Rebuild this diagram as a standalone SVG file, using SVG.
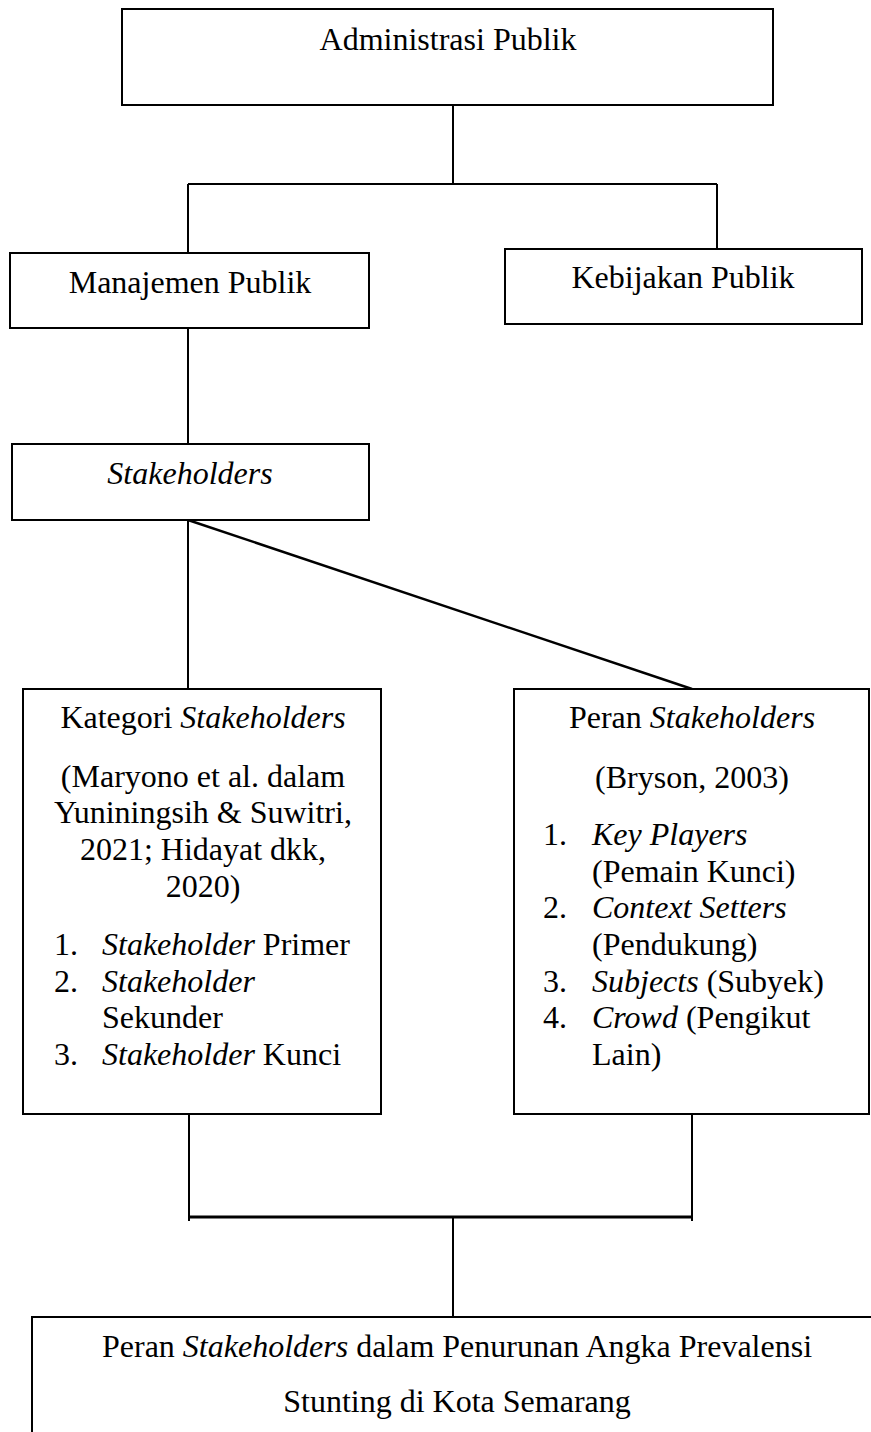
<svg xmlns="http://www.w3.org/2000/svg" width="871" height="1432" viewBox="0 0 871 1432">
<style>
.box{fill:#fff;stroke:#000;stroke-width:2}
.ln{fill:none;stroke:#000;stroke-width:2}
text{font-family:"Liberation Serif","Times New Roman",serif;font-size:32px;fill:#000}
.c{text-anchor:middle}
.i{font-style:italic}
</style>
<rect width="871" height="1432" fill="#fff"/>
<g id="connectors">
<path class="ln" d="M453 105 V184 M188 184 H717 M188 184 V253 M717 184 V249"/>
<path class="ln" d="M188 328 V444"/>
<path class="ln" d="M188 520 V689"/>
<path class="ln" d="M188 520 L692 689" style="stroke-width:2.5"/>
<path class="ln" d="M189 1114 V1221 M692 1114 V1221"/>
<path class="ln" d="M189 1217 H692" style="stroke-width:3"/>
<path class="ln" d="M453 1217 V1317"/>
</g>
<g id="administrasi-publik">
<rect class="box" x="122" y="9" width="651" height="96"/>
<text class="c" x="448" y="50">Administrasi Publik</text>
</g>
<g id="manajemen-publik">
<rect class="box" x="10" y="253" width="359" height="75"/>
<text class="c" x="190" y="293">Manajemen Publik</text>
</g>
<g id="kebijakan-publik">
<rect class="box" x="505" y="249" width="357" height="75"/>
<text class="c" x="683" y="288">Kebijakan Publik</text>
</g>
<g id="stakeholders">
<rect class="box" x="12" y="444" width="357" height="76"/>
<text class="c i" x="190" y="484">Stakeholders</text>
</g>
<g id="kategori-stakeholders">
<rect class="box" x="23" y="689" width="358" height="425"/>
<text class="c" x="203" y="728">Kategori <tspan class="i">Stakeholders</tspan></text>
<text class="c" x="203" y="787">(Maryono et al. dalam</text>
<text class="c" x="203" y="823">Yuniningsih &amp; Suwitri,</text>
<text class="c" x="203" y="860">2021; Hidayat dkk,</text>
<text class="c" x="203" y="897">2020)</text>
<text x="54" y="955">1.</text><text x="102" y="955"><tspan class="i">Stakeholder</tspan> Primer</text>
<text x="54" y="992">2.</text><text x="102" y="992" class="i">Stakeholder</text>
<text x="102" y="1028">Sekunder</text>
<text x="54" y="1065">3.</text><text x="102" y="1065"><tspan class="i">Stakeholder</tspan> Kunci</text>
</g>
<g id="peran-stakeholders">
<rect class="box" x="514" y="689" width="355" height="425"/>
<text class="c" x="692" y="728">Peran <tspan class="i">Stakeholders</tspan></text>
<text class="c" x="692" y="788">(Bryson, 2003)</text>
<text x="543" y="845">1.</text><text x="592" y="845" class="i">Key Players</text>
<text x="592" y="882">(Pemain Kunci)</text>
<text x="543" y="918">2.</text><text x="592" y="918" class="i">Context Setters</text>
<text x="592" y="955">(Pendukung)</text>
<text x="543" y="992">3.</text><text x="592" y="992"><tspan class="i">Subjects</tspan> (Subyek)</text>
<text x="543" y="1028">4.</text><text x="592" y="1028"><tspan class="i">Crowd</tspan> (Pengikut</text>
<text x="592" y="1065">Lain)</text>
</g>
<g id="peran-stakeholders-penurunan">
<rect class="box" x="32" y="1317" width="860" height="140"/>
<text class="c" x="457" y="1357">Peran <tspan class="i">Stakeholders</tspan> dalam Penurunan Angka Prevalensi</text>
<text class="c" x="457" y="1412">Stunting di Kota Semarang</text>
</g>
</svg>
